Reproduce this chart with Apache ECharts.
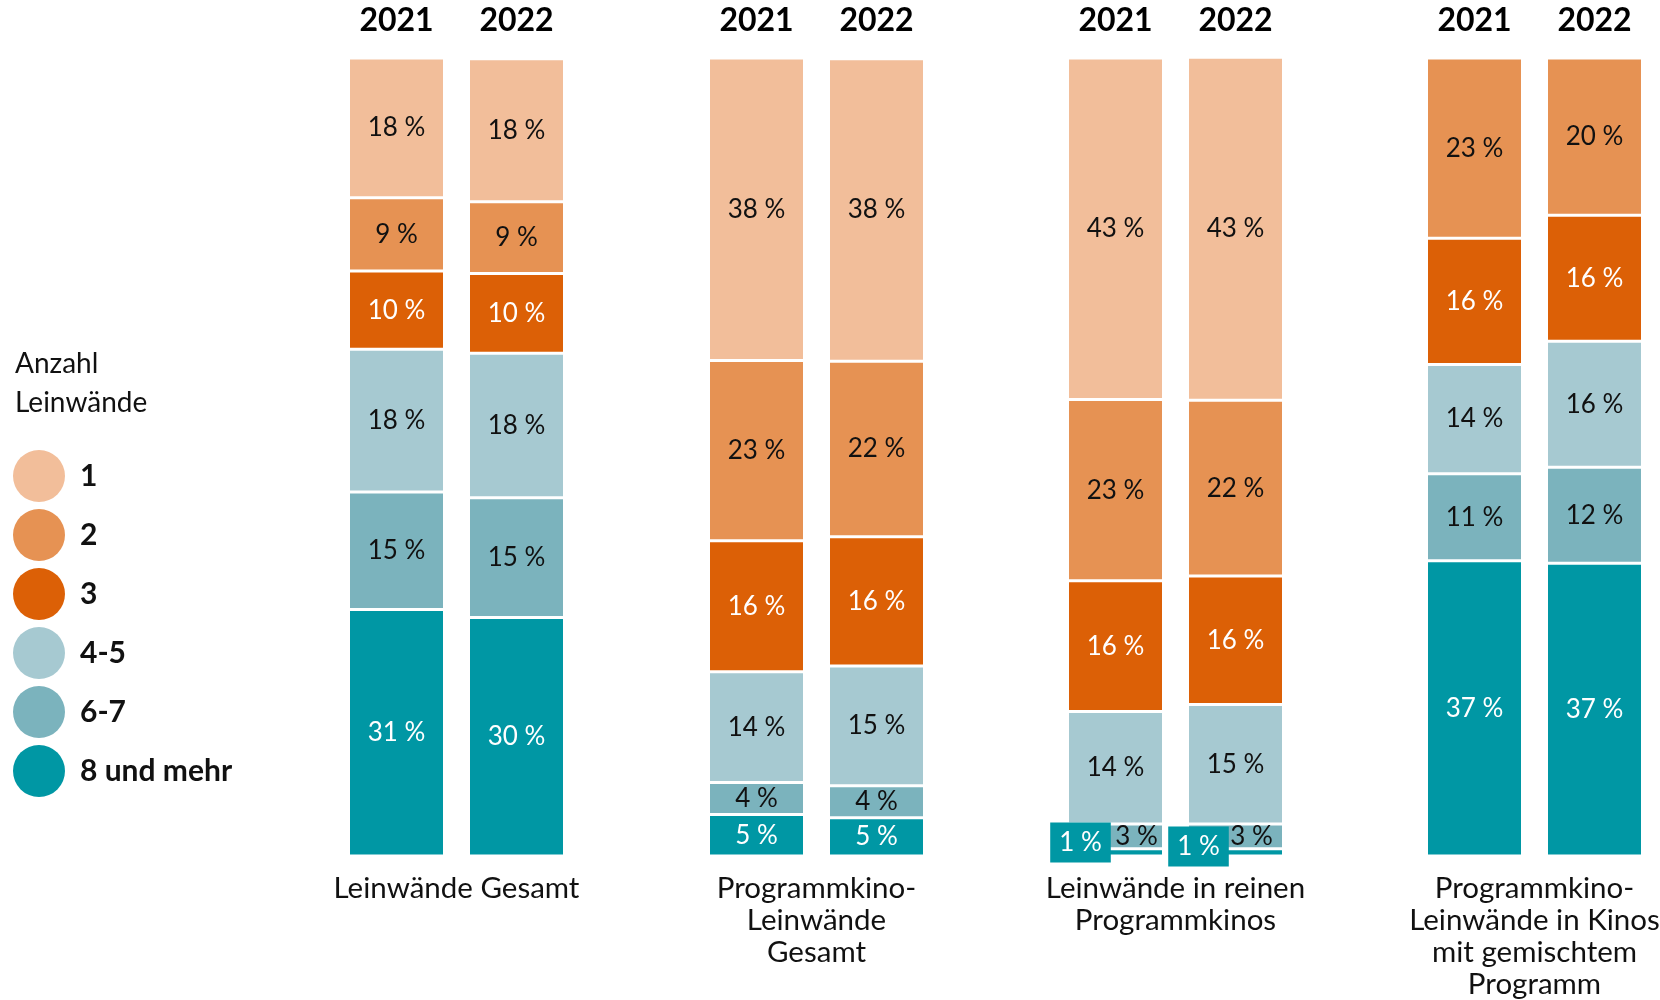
<!DOCTYPE html>
<html>
<head>
<meta charset="utf-8">
<script src="https://cdn.jsdelivr.net/npm/echarts@6/dist/echarts.min.js"></script>
<style>
  html, body { margin: 0; padding: 0; background: #fff; }
  #main { width: 1660px; height: 1000px; }
</style>
</head>
<body>
<div id="main"></div>
<script>
// Kategorien (Anzahl Leinwände) und Jahre
var categories = ['1', '2', '3', '4-5', '6-7', '8 und mehr'];
var years = ['2021', '2022'];
var groupNames = [
    'Leinwände Gesamt',
    'Programmkino-\nLeinwände\nGesamt',
    'Leinwände in reinen\nProgrammkinos',
    'Programmkino-\nLeinwände in Kinos\nmit gemischtem\nProgramm'
];

// Anteile in %, Reihenfolge wie categories
var gesamt2021 = [17.5, 9.2, 9.8, 17.9, 14.7, 30.9];
var gesamt2022 = [17.9, 9.0, 10.0, 18.1, 15.0, 29.9];
var progGesamt2021 = [37.9, 22.6, 16.4, 13.9, 4.0, 5.2];
var progGesamt2022 = [37.9, 22.0, 16.2, 15.0, 4.0, 4.8];
var reine2021 = [42.8, 22.7, 16.4, 14.1, 3.1, 0.9];
var reine2022 = [43.0, 22.0, 16.1, 15.0, 3.1, 0.9];
var gemischt2021 = [0, 22.6, 15.8, 13.7, 10.9, 37.0];
var gemischt2022 = [0, 19.7, 15.8, 15.8, 12.0, 36.7];

var groupData = [
    [gesamt2021, gesamt2022],
    [progGesamt2021, progGesamt2022],
    [reine2021, reine2022],
    [gemischt2021, gemischt2022]
];

var colors = ['#f2be9a', '#e69253', '#dc6006', '#a6c9d1', '#7bb3bd', '#0097a4'];
var labelColors = ['#111', '#111', '#fff', '#111', '#111', '#fff'];
var font = 'Lato';

var groupCenters = [456.5, 816.5, 1175.5, 1534.5];

var grids = [], xAxes = [], yAxes = [], series = [];

groupCenters.forEach(function (cx, g) {
    grids.push({ left: cx - 120, width: 240, top: 58, bottom: 144, outerBoundsMode: 'none', containLabel: false });
    // oben: Jahre
    xAxes.push({
        type: 'category', gridIndex: g, position: 'top', data: years,
        axisLine: { show: false }, axisTick: { show: false },
        axisLabel: { fontFamily: font, fontSize: 32, fontWeight: 'bold', color: '#000', margin: 19, lineHeight: 36 }
    });
    // unten: Gruppenname
    xAxes.push({
        type: 'category', gridIndex: g, position: 'bottom', data: years,
        axisLine: { show: false }, axisTick: { show: false }, axisLabel: { show: false },
        name: groupNames[g], nameLocation: 'middle', nameGap: 16,
        nameTextStyle: { fontFamily: font, fontSize: 29.5, color: '#111', lineHeight: 32, verticalAlign: 'top' }
    });
    yAxes.push({ type: 'value', gridIndex: g, min: 0, max: 100, show: false });

    // von unten nach oben stapeln
    for (var c = categories.length - 1; c >= 0; c--) {
        var items = groupData[g].map(function (arr, y) {
            var item = { value: arr[c] };
            if (g === 2 && c === 5) {
                item.label = {
                    offset: y === 0 ? [-35, -10] : [-37, -6],
                    backgroundColor: '#0097a4', padding: [7, 9]
                };
            }
            if (g === 2 && c === 4) {
                item.label = { offset: y === 0 ? [21, 0] : [16, 0] };
            }
            return item;
        });
        series.push({
            name: categories[c],
            type: 'bar',
            stack: 'g' + g,
            xAxisIndex: g * 2,
            yAxisIndex: g,
            barWidth: 96,
            z: c === 5 ? 3 : 2,
            data: items,
            itemStyle: { color: colors[c], borderColor: '#fff', borderWidth: 1.5 },
            label: {
                show: true, position: 'inside',
                fontFamily: font, fontSize: 26, color: labelColors[c],
                formatter: function (p) { return p.value > 0 ? Math.round(p.value) + ' %' : ''; }
            },
            emphasis: { disabled: true }
        });
    }
});

var myChart = echarts.init(document.getElementById('main'));
var option = {
    backgroundColor: '#fff',
    animation: false,
    title: {
        text: 'Anzahl\nLeinwände', left: 10, top: 339,
        textStyle: { fontFamily: font, fontSize: 28, fontWeight: 'normal', color: '#111', lineHeight: 39 }
    },
    legend: {
        data: categories, orient: 'vertical', left: 8, top: 445,
        icon: 'circle', itemWidth: 52, itemHeight: 52, itemGap: 7,
        itemStyle: { borderWidth: 0 },
        textStyle: { fontFamily: font, fontSize: 30, fontWeight: 'bold', color: '#111', padding: [0, 0, 0, 10] },
        selectedMode: false
    },
    grid: grids,
    xAxis: xAxes,
    yAxis: yAxes,
    series: series
};
myChart.setOption(option);
</script>
</body>
</html>
